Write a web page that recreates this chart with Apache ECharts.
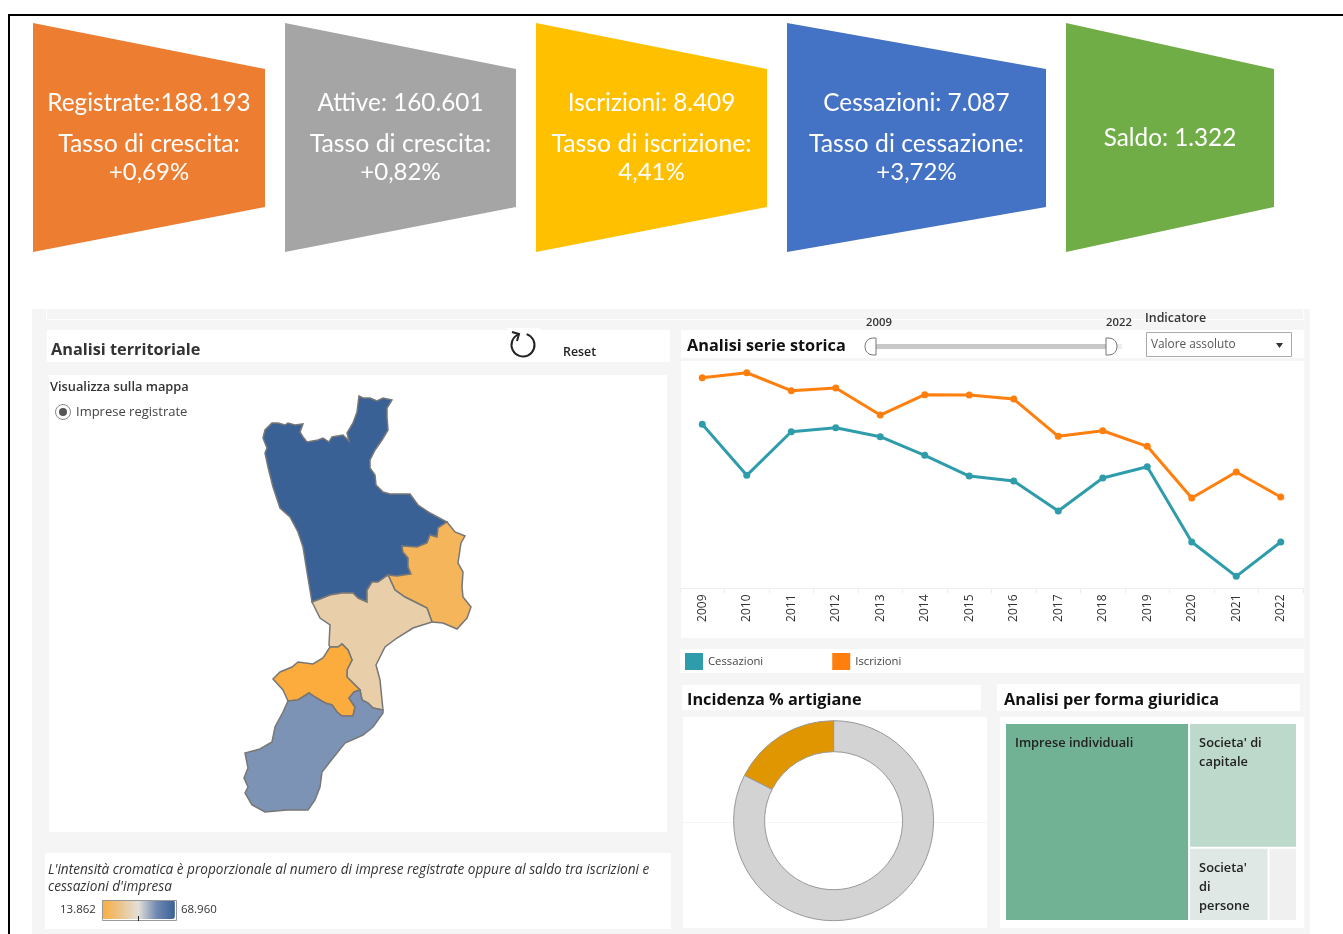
<!DOCTYPE html>
<html><head><meta charset="utf-8">
<style>html,body{margin:0;padding:0;background:#fff}#c{width:1343px;height:934px}</style>
<script src="https://cdn.jsdelivr.net/npm/echarts@6/dist/echarts.min.js"></script>
</head><body><div id="c"></div>
<script>
// ---------- data ----------
const years = ['2009','2010','2011','2012','2013','2014','2015','2016','2017','2018','2019','2020','2021','2022'];
const iscrizioni = [11916,12063,11534,11614,10820,11417,11408,11290,10194,10358,9900,8380,9144,8409];
const cessazioni = [10546,9047,10329,10446,10182,9635,9026,8879,7997,8968,9300,7087,6078,7087];
const provinceNames = ['Cosenza','Crotone','Catanzaro','Vibo Valentia','Reggio Calabria'];
const provinceValues = [68960,18900,32900,13862,53571];
const artigianeLabels = ['Altre imprese','Artigiane'];
const artigianeValues = [82.5,17.5];
const formaLabels = ['Imprese individuali',"Societa' di\ncapitale","Societa'\ndi\npersone",'Altre forme'];
const formaValues = [118650,43790,18950,6800];
const kpiTexts = [
  ['Registrate:188.193','Tasso di crescita:','+0,69%'],
  ['Attive: 160.601','Tasso di crescita:','+0,82%'],
  ['Iscrizioni: 8.409','Tasso di iscrizione:','4,41%'],
  ['Cessazioni: 7.087','Tasso di cessazione:','+3,72%'],
  ['Saldo: 1.322']
];
// outlines of the five provinces (map geometry)
const cosenzaShape = [[359,396],[363,398],[370,398],[377,401],[383,398],[392,400],[387,408],[387,417],[388,430],[382,440],[375,450],[370,460],[370,468],[375,475],[376,485],[383,492],[390,494],[410,494],[418,505],[430,513],[447,522],[438,528],[437,537],[430,535],[427,543],[417,547],[402,546],[403,552],[408,558],[408,567],[411,574],[397,576],[388,575],[378,582],[372,582],[367,590],[367,602],[358,598],[353,593],[342,593],[330,595],[320,599],[312,602],[307,572],[303,547],[298,532],[290,517],[280,508],[273,487],[268,467],[265,453],[267,448],[263,438],[265,430],[272,423],[278,423],[285,425],[288,423],[295,425],[303,424],[300,432],[303,437],[307,442],[318,440],[323,438],[329,442],[332,437],[343,435],[349,441],[347,433],[353,423],[357,412]];
const crotoneShape = [[447,522],[455,532],[465,536],[461,543],[458,563],[463,572],[462,587],[463,597],[471,607],[467,618],[457,629],[443,623],[432,622],[427,608],[415,602],[405,597],[395,590],[388,575],[397,576],[411,574],[408,567],[408,558],[403,552],[402,546],[417,547],[427,543],[430,535],[437,537],[438,528]];
const catanzaroShape = [[312,602],[320,599],[330,595],[342,593],[353,593],[358,598],[367,602],[367,590],[372,582],[378,582],[388,575],[395,590],[405,597],[415,602],[427,608],[432,622],[413,628],[397,638],[385,647],[380,657],[376,665],[380,680],[383,710],[373,708],[368,703],[362,700],[360,690],[353,683],[347,677],[347,670],[352,660],[348,650],[342,644],[338,647],[330,647],[329,645],[330,625],[320,618]];
const viboShape = [[330,647],[338,647],[342,644],[348,650],[352,660],[347,670],[347,677],[353,683],[360,690],[354,692],[349,698],[355,707],[353,716],[342,716],[337,712],[332,705],[325,703],[315,697],[309,693],[298,700],[288,701],[283,690],[273,679],[280,672],[292,667],[298,662],[313,664],[323,658]];
const reggioShape = [[288,701],[298,700],[309,693],[315,697],[325,703],[332,705],[337,712],[342,716],[353,716],[355,707],[349,698],[354,692],[360,690],[362,700],[368,703],[373,708],[383,710],[383,713],[373,727],[363,735],[345,743],[333,758],[322,772],[320,787],[315,800],[308,810],[297,810],[287,810],[265,812],[252,805],[245,793],[248,787],[244,778],[248,768],[245,753],[260,749],[272,742],[275,727],[283,712]];
const provinceShapes = [cosenzaShape,crotoneShape,catanzaroShape,viboShape,reggioShape];

// ---------- helpers ----------
const UI = '"Open Sans", sans-serif', KP = 'Lato, sans-serif';
const rect = (x,y,w,h,fill,extra) => Object.assign({type:'rect',silent:true,shape:{x,y,width:w,height:h},style:{fill}},extra||{});
const txt = (x,y,text,font,fill,align) => ({type:'text',silent:true,z:5,style:{x,y,text,font,fill:fill||'#333',textAlign:align||'left',align:align||'left',textVerticalAlign:'middle',verticalAlign:'middle'}});
const trap = (l,r,fill) => ({type:'polygon',silent:true,shape:{points:[[l,23],[r,69],[r,207],[l,252]]},style:{fill}});

const elements = [];
// frame
elements.push(rect(8,14,1335,2,'#000'), rect(8,14,2,920,'#000'));
// KPI shapes
const kpiBoxes = [[33,265,'#ED7D31'],[285,516,'#A5A5A5'],[536,767,'#FFC000'],[787,1046,'#4472C4'],[1066,1274,'#70AD47']];
kpiBoxes.forEach((b,i)=>{
  elements.push(trap(b[0],b[1],b[2]));
  const cx=(b[0]+b[1])/2;
  if(kpiTexts[i].length===1){ elements.push(txt(cx,138,kpiTexts[i][0],'24.3px '+KP,'#fff','center')); }
  else{
    elements.push(txt(cx,103,kpiTexts[i][0],'24.3px '+KP,'#fff','center'));
    elements.push(txt(cx,144,kpiTexts[i][1],'24.8px '+KP,'#fff','center'));
    elements.push(txt(cx,172,kpiTexts[i][2],'24px '+KP,'#fff','center'));
  }
});
// dashboard background and white panels
elements.push(rect(32,309,1278,625,'#F5F5F5'));
[[46,319,1258,1],[46,310,1,10],[1303,310,1,10],[47,330,623,32],[507,328,33,34],[49,375,618,457],[45,853,626,76],
 [681,330,623,28],[681,361,623,277],[680,649,624,24],[682,685,299,25],[997,684,303,27],[683,717,304,211],[1000,717,304,211]]
 .forEach(p=>elements.push(rect(p[0],p[1],p[2],p[3],'#fff')));
elements.push(rect(683,822,304,1,'#F5F5F5'));
// headings
elements.push(txt(51,350,'Analisi territoriale','bold 16.3px '+UI,'#333'));
elements.push(txt(687,346,'Analisi serie storica','bold 16.3px '+UI,'#111'));
elements.push(txt(687,700,'Incidenza % artigiane','bold 16.3px '+UI,'#111'));
elements.push(txt(1004,700,'Analisi per forma giuridica','bold 16.3px '+UI,'#111'));
// reset
elements.push({type:'arc',silent:true,shape:{cx:523,cy:345,r:11.5,startAngle:-1.25,endAngle:-1.9+6.28},style:{stroke:'#222',lineWidth:2,fill:null}});
elements.push({type:'polyline',silent:true,shape:{points:[[512,332],[519,334],[517,341]]},style:{stroke:'#222',lineWidth:2,fill:null}});
elements.push(txt(563,352,'Reset','600 12.4px '+UI,'#222'));
// radio
elements.push(txt(50,387,'Visualizza sulla mappa','600 12.8px '+UI,'#333'));
elements.push({type:'circle',silent:true,shape:{cx:63,cy:412,r:7.5},style:{fill:'#fff',stroke:'#888',lineWidth:1}});
elements.push({type:'circle',silent:true,shape:{cx:63,cy:412,r:4},style:{fill:'#555'}});
elements.push(txt(76,412,'Imprese registrate','13px '+UI,'#444'));
// note
elements.push(txt(48,870,"L'intensità cromatica è proporzionale al numero di imprese registrate oppure al saldo tra iscrizioni e",'italic 13.6px '+UI,'#333'));
elements.push(txt(48,887,"cessazioni d'impresa",'italic 13.6px '+UI,'#333'));
elements.push(rect(102.5,900.5,74,20,'none',{z:9,style:{fill:'none',stroke:'#999',lineWidth:1}}));
elements.push(rect(138,916,1,5,'#222',{z:10}));
// slider
elements.push(txt(879,323,'2009','600 11.3px '+UI,'#333','center'));
elements.push(txt(1119,323,'2022','600 11.3px '+UI,'#333','center'));
elements.push(rect(870,344,252,5,'#EDEDED'));
elements.push(rect(872,344,236,5,'#C8C8C8'));
elements.push({type:'rect',silent:true,z:3,shape:{x:865,y:338,width:11,height:17,r:[8,0,0,8]},style:{fill:'#fff',stroke:'#777',lineWidth:1}});
elements.push({type:'rect',silent:true,z:3,shape:{x:1106,y:338,width:11,height:17,r:[0,8,8,0]},style:{fill:'#fff',stroke:'#777',lineWidth:1}});
// dropdown
elements.push(txt(1145,318,'Indicatore','600 12.4px '+UI,'#333'));
elements.push(rect(1146.5,332.5,145,24,'#fff',{style:{fill:'#fff',stroke:'#AAA',lineWidth:1}}));
elements.push(txt(1151,345,'Valore assoluto','11.8px '+UI,'#555'));
elements.push({type:'polygon',silent:true,z:5,shape:{points:[[1276,343],[1283,343],[1279.5,348]]},style:{fill:'#333'}});

// ---------- map ----------
const geo = {type:'FeatureCollection',features:provinceNames.map((n,i)=>({type:'Feature',properties:{name:n},
  geometry:{type:'Polygon',coordinates:[provinceShapes[i].concat([provinceShapes[i][0]]).map(p=>[p[0],-p[1]])]}}))};
echarts.registerMap('calabria',geo);

const chart = echarts.init(document.getElementById('c'),null,{renderer:'canvas'});
chart.setOption({
  animation:false,
  backgroundColor:'#fff',
  textStyle:{fontFamily:UI},
  graphic:{elements},
  grid:{left:680,top:362.5,width:623,height:226},
  xAxis:{type:'category',data:years,boundaryGap:true,
    axisLine:{lineStyle:{color:'#EEEEEE'}},axisTick:{show:true,length:5,lineStyle:{color:'#EEEEEE'}},
    axisLabel:{rotate:90,fontSize:12,color:'#333',margin:6,interval:0,padding:[6,0,0,0]}},
  yAxis:{type:'value',min:5720,max:12364,show:false,splitLine:{show:false}},
  legend:{left:685,top:653,padding:0,itemWidth:18,itemHeight:17,itemGap:69,icon:'rect',selectedMode:false,
    data:['Cessazioni','Iscrizioni'],textStyle:{fontSize:11.3,color:'#444',padding:[4,0,0,0]}},
  visualMap:{type:'continuous',orient:'horizontal',seriesIndex:2,min:13862,max:68960,
    left:45,top:885,itemWidth:19,itemHeight:73,calculable:false,text:['68.960','13.862'],textGap:6,
    textStyle:{fontSize:11.5,color:'#333'},
    inRange:{color:['#FBAC3D','#EBC48C','#E2DFD8','#7089B0','#3A6196']}},
  series:[
    {type:'line',name:'Cessazioni',data:cessazioni,symbol:'circle',symbolSize:7,color:'#2E9CAB',lineStyle:{width:3,color:'#2E9CAB'},itemStyle:{color:'#2E9CAB'},silent:true},
    {type:'line',name:'Iscrizioni',data:iscrizioni,symbol:'circle',symbolSize:7,color:'#FF7F0E',lineStyle:{width:3,color:'#FF7F0E'},itemStyle:{color:'#FF7F0E'},silent:true},
    {type:'map',map:'calabria',aspectScale:1,left:244,top:396,width:227,height:416,roam:false,silent:true,showLegendSymbol:false,
      label:{show:false},emphasis:{disabled:true},
      itemStyle:{borderColor:'#777',borderWidth:1.5,areaColor:'#ddd'},
      data:provinceNames.map((n,i)=>({name:n,value:provinceValues[i]}))},
    {type:'pie',center:[833.6,820.7],radius:[69,100],startAngle:90,clockwise:true,silent:true,label:{show:false},labelLine:{show:false},
      itemStyle:{borderColor:'#999',borderWidth:1},
      data:artigianeLabels.map((n,i)=>({name:n,value:artigianeValues[i],itemStyle:{color:['#D3D3D3','#E09600'][i]}}))},
    {type:'treemap',left:1006,top:724,width:290,height:196,roam:false,nodeClick:false,silent:true,breadcrumb:{show:false},
      sort:'desc',
      levels:[{itemStyle:{gapWidth:2,borderWidth:0}}],
      label:{show:true,position:'insideTopLeft',color:'#222',fontSize:12.8,fontWeight:600,lineHeight:19,padding:[10,8,0,9],overflow:'none',fontFamily:UI},
      data:formaLabels.map((n,i)=>({name:n,value:formaValues[i],
        label:{show:i<3},
        itemStyle:{color:['#71B295','#BDD9CC','#DFE8E5','#F0F0F0'][i]}}))}
  ]
});
</script></body></html>
